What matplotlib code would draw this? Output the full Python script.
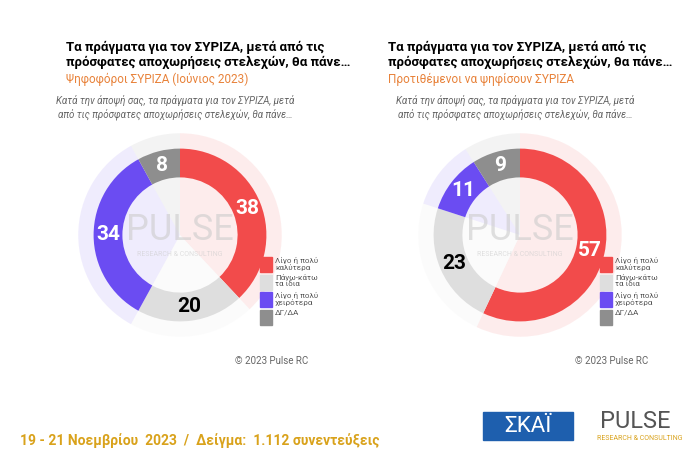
import matplotlib
matplotlib.use("Agg")
import matplotlib.pyplot as plt
from matplotlib.patches import Rectangle
import numpy as np

categories = ["Λίγο ή πολύ\nκαλύτερα", "Πάνω-κάτω\nτα ίδια", "Λίγο ή πολύ\nχειρότερα", "ΔΓ/ΔΑ"]
left_values = [38, 20, 34, 8]
right_values = [57, 23, 11, 9]
subtitles = ["Ψηφοφόροι ΣΥΡΙΖΑ (Ιούνιος 2023)", "Προτιθέμενοι να ψηφίσουν ΣΥΡΙΖΑ"]
colors = ["#F24B4B", "#DEDEDE", "#6B4CF2", "#8E8E8E"]
label_colors = ["white", "black", "white", "white"]

W, H = 700, 459
fig = plt.figure(figsize=(7, 4.59), dpi=100)
fig.patch.set_facecolor("white")
plt.rcParams["font.family"] = "Roboto"

def fx(x): return x / W
def fy(y): return 1 - y / H

panels = [(180, left_values, subtitles[0], 66), (520, right_values, subtitles[1], 388)]
for cx, vals, sub, tx in panels:
    cy = 235
    ax = fig.add_axes([fx(cx - 120), fy(cy + 120), 240 / W, 240 / H])
    ax.set_xlim(-1.2, 1.2); ax.set_ylim(-1.2, 1.2); ax.axis("off")
    ax.pie(vals, radius=1.06, startangle=90, counterclock=False, colors=colors,
           wedgeprops=dict(alpha=0.1, linewidth=0))
    ax.pie(vals, radius=0.9, startangle=90, counterclock=False, colors=colors,
           wedgeprops=dict(width=0.3, linewidth=0))
    ax.text(0, 0.05, "PULSE", ha="center", va="center", fontsize=26, color="#cccccc", alpha=0.6)
    ax.text(0, -0.2, "RESEARCH & CONSULTING", ha="center", va="center", fontsize=5, color="#cccccc", alpha=0.6)
    start = 90.0
    tot = sum(vals)
    for v, lc in zip(vals, label_colors):
        ang = np.deg2rad(start - 360 * v / tot / 2)
        start -= 360 * v / tot
        r = 0.75
        ax.text(r * np.cos(ang), r * np.sin(ang), str(v), ha="center", va="center",
                fontsize=15, fontweight="bold", color=lc)
    ax.set_aspect("equal")
    fig.text(fx(tx), fy(55), "Τα πράγματα για τον ΣΥΡΙΖΑ, μετά από τις\nπρόσφατες αποχωρήσεις στελεχών, θα πάνε…",
             fontsize=9.5, fontweight="bold", va="center", ha="left", linespacing=1.1)
    fig.text(fx(tx), fy(79), sub, fontsize=8.5, color="#E8823A", va="center", ha="left")
    fig.text(fx(cx - 5), fy(107), "Κατά την άποψή σας, τα πράγματα για τον ΣΥΡΙΖΑ, μετά\nαπό τις πρόσφατες αποχωρήσεις στελεχών, θα πάνε…",
             fontsize=7, style="italic", color="#666666", ha="center", va="center", linespacing=1.3)
    lx = cx + 80
    for i, (c, lab) in enumerate(zip(colors, categories)):
        y0 = 257 + i * 17.5
        fig.patches.append(Rectangle((fx(lx), fy(y0 + 15)), 12 / W, 15 / H, color=c, transform=fig.transFigure))
        fig.text(fx(lx + 15), fy(y0), lab, fontsize=5.8, color="#555555", va="top", ha="left", linespacing=1.05)
    fig.text(fx(cx + 55), fy(361), "© 2023 Pulse RC", fontsize=7, color="#666666", va="center")

fig.text(fx(20), fy(441), "19 - 21 Νοεμβρίου  2023  /  Δείγμα:  1.112 συνεντεύξεις",
         fontsize=10, color="#D9A21B", fontweight="bold", va="center")
fig.patches.append(Rectangle((fx(483), fy(440)), 90 / W, 28 / H, color="#1E5FAE", transform=fig.transFigure))
fig.text(fx(528), fy(426), "ΣΚΑΪ", fontsize=16, color="white", ha="center", va="center")
fig.text(fx(635), fy(422), "PULSE", fontsize=17, color="#555555", ha="center", va="center")
fig.text(fx(640), fy(438), "RESEARCH & CONSULTING", fontsize=5, color="#D9A21B", ha="center", va="center")

fig.savefig("out.png", dpi=100)
